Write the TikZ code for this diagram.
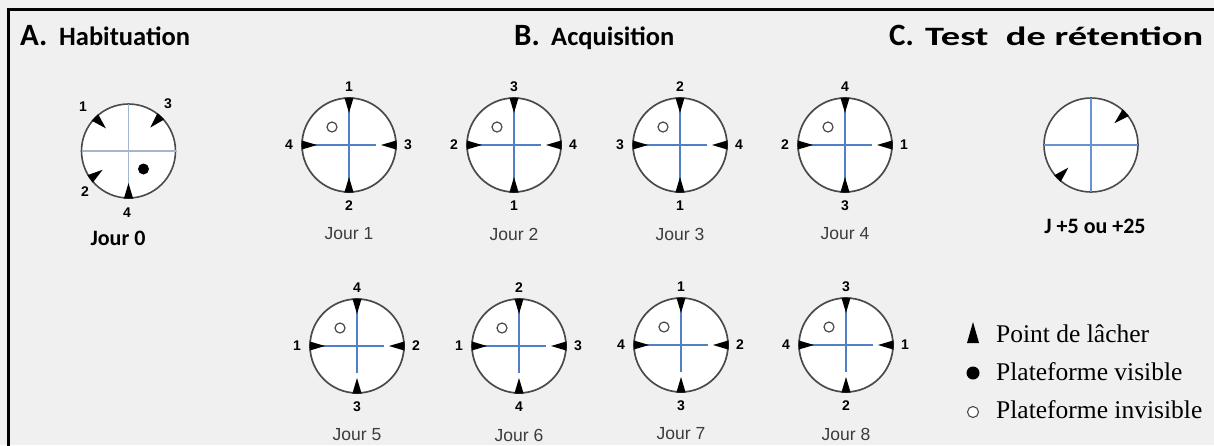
\documentclass[tikz,border=0pt]{standalone}
\usepackage{fontspec}
\usetikzlibrary{calc}
\newfontfamily\calb[BoldFont={Carlito Bold}]{Carlito}
\newfontfamily\arif{Liberation Sans}
\newfontfamily\timf{Liberation Serif}
\definecolor{bgcol}{HTML}{F0F0F0}
\definecolor{circgray}{HTML}{4A4A4A}
\definecolor{crossblue}{HTML}{4F80C8}
\definecolor{crossgrey}{HTML}{A4B6CC}
\definecolor{jourgray}{HTML}{3C3C3C}
\tikzset{
  maze/.style={circle, draw=circgray, line width=1.7pt, fill=white, minimum size=94pt, inner sep=0pt, outer sep=0pt},
  bline/.style={draw=crossblue, line width=1.9pt},
  gline/.style={draw=crossgrey, line width=1.2pt},
  num/.style={inner sep=0pt, font=\arif\bfseries\fontsize{14}{14}\selectfont},
  jourlab/.style={inner sep=0pt, text=jourgray, font=\arif\fontsize{17.5}{17.5}\selectfont},
  title/.style={inner sep=0pt, anchor=base west, font=\calb\bfseries\fontsize{26.5}{30}\selectfont},
  titleletter/.style={inner sep=0pt, anchor=base west, font=\calb\bfseries\fontsize{31}{34}\selectfont},
  calblab/.style={inner sep=0pt, anchor=base, font=\calb\bfseries\fontsize{22}{24}\selectfont},
  legend/.style={inner sep=0pt, anchor=base west, font=\timf\fontsize{25.5}{28}\selectfont},
  plat/.style={draw=circgray, line width=1.2pt, fill=white},
}
% arrowhead (release point) at angle #2 on maze #1
\newcommand\lacher[2]{%
  \fill[black, shift={(#1.center)}, rotate=#2] (47.5,-4.6) -- (47.5,4.6) -- (32,0) -- cycle;}
% #1 name, #2 x, #3 y, #4 top, #5 right, #6 bottom, #7 left, #8 day, #9 vertical end
\newcommand\jourmaze[9]{%
  \node[maze] (#1) at (#2,#3) {};
  \draw[bline] (#1.west) -- ($(#1.center)+(27,0)$);
  \draw[bline] (#1.north) -- ($(#1.center)+(0,#9)$);
  \draw[plat] ($(#1.center)+(-17,-18)$) circle (5);
  \lacher{#1}{90}\lacher{#1}{0}\lacher{#1}{270}\lacher{#1}{180}
  \node[num] (#1t) at ($(#1.center)+(0,-58)$) {#4};
  \node[num] (#1r) at ($(#1.center)+(59,0)$) {#5};
  \node[num] (#1b) at ($(#1.center)+(0,61)$) {#6};
  \node[num] (#1l) at ($(#1.center)+(-60,0)$) {#7};
  \node[jourlab] (#1j) at ($(#1.center)+(0,89)$) {Jour #8};
}
\begin{document}
\begin{tikzpicture}[x=1pt,y=-1pt]
\useasboundingbox (0,0) rectangle (1214,445);
\fill[bgcol] (0,0) rectangle (1214,445);
\draw[line width=3pt, line cap=rect] (8.7,445) -- (8.7,9.7) -- (1214,9.7);

% titles
\node[titleletter] (tA) at (20,45) {A.};
\node[title] (tAh) at (59,45) {Habituation};
\node[titleletter] (tB) at (514,45) {B.};
\node[title] (tBa) at (551,45) {Acquisition};
\node[titleletter] (tC) at (889,45) {C.};
\node[title] (tCt) at (925,45) {\resizebox{278pt}{\height}{Test\ \ de rétention}};

% A. Habituation
\node[maze, line width=1.6pt] (j0) at (128.5,151) {};
\draw[gline] (j0.north) -- (j0.south);
\draw[gline] (j0.west) -- (j0.east);
\fill[black] ($(j0.center)+(15,18)$) circle (5.5);
\lacher{j0}{135}\lacher{j0}{47}\lacher{j0}{216}\lacher{j0}{270}
\node[num] (j0a) at (83,107) {1};
\node[num] (j0b) at (168,104) {3};
\node[num] (j0c) at (85,192) {2};
\node[num] (j0d) at (127,213) {4};
\node[calblab] (j0j) at (118,245) {Jour 0};

% B. Acquisition
\jourmaze{j1}{349}{145}{1}{3}{2}{4}{1}{47}
\jourmaze{j2}{514}{145}{3}{4}{1}{2}{2}{47}
\jourmaze{j3}{680}{145}{2}{4}{1}{3}{3}{47}
\jourmaze{j4}{845}{145}{4}{1}{3}{2}{4}{47}
\jourmaze{j5}{357}{346}{4}{2}{3}{1}{5}{27}
\jourmaze{j6}{519}{346}{2}{3}{4}{1}{6}{27}
\jourmaze{j7}{681}{345}{1}{2}{3}{4}{7}{27}
\jourmaze{j8}{846}{345}{3}{1}{2}{4}{8}{27}

% C. Test de retention
\node[maze, line width=1.6pt] (jc) at (1091,145) {};
\draw[bline, draw=crossblue!85!white] (jc.north) -- (jc.south);
\draw[bline, draw=crossblue!85!white] (jc.west) -- (jc.east);
\lacher{jc}{43}\lacher{jc}{225}
\node[calblab] (jcj) at (1095,233) {J +5 ou +25};

% legend
\fill[black] (967,343) -- (979,343) -- (973,322) -- cycle;
\node[legend] (l1) at (996,342) {Point de lâcher};
\fill[black] (973,373) circle (6.5);
\node[legend] (l2) at (996,380) {Plateforme visible};
\draw[plat, line width=1.1pt] (973,412) circle (5.5);
\node[legend] (l3) at (996,418) {Plateforme invisible};
\end{tikzpicture}
\end{document}
